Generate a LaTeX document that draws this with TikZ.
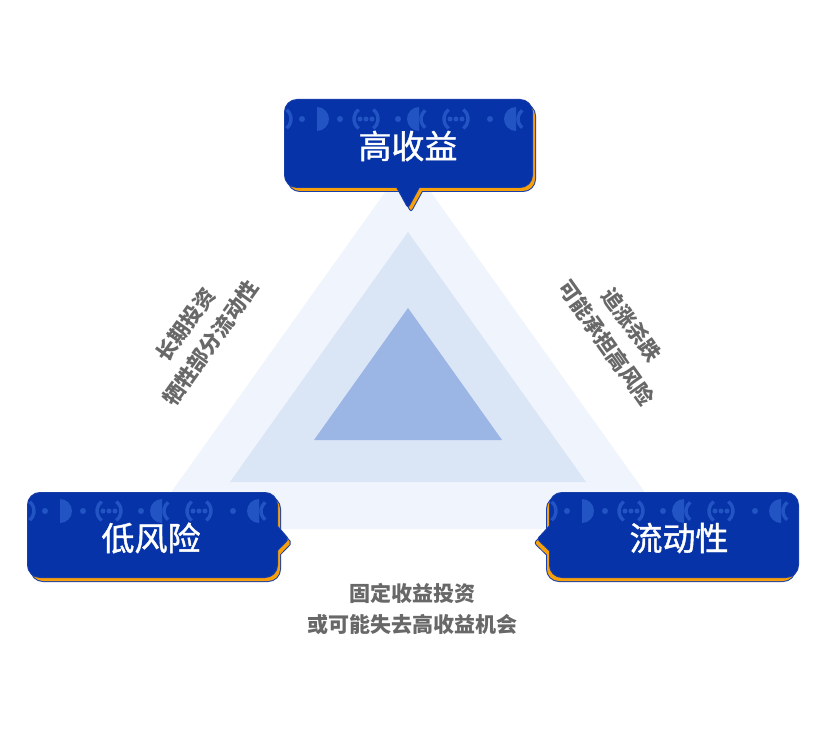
\documentclass[tikz,border=0pt]{standalone}
\usepackage{fontspec}
\newfontfamily\cjkfont{Noto Sans CJK SC}
\newfontfamily\cjkmid[FakeBold=1.2]{Noto Sans CJK SC}

\definecolor{boxblue}{RGB}{6,52,168}
\definecolor{boxedge}{RGB}{24,62,168}
\definecolor{decoblue}{RGB}{34,84,196}
\definecolor{shadoworange}{RGB}{246,160,12}
\definecolor{triouter}{RGB}{240,244,252}
\definecolor{trimiddle}{RGB}{218,229,246}
\definecolor{triinner}{RGB}{155,181,229}
\definecolor{notegray}{RGB}{104,104,104}

\tikzset{
  bubbleedge/.style={draw=boxedge, line width=2pt},
  bubblefill/.style={fill=boxblue},
  shadowfill/.style={fill=shadoworange},
  deco/.style={draw=decoblue, line width=3.4pt},
  bubbletext/.style={text=white, font=\cjkmid\fontsize{33}{40}\selectfont},
  notetext/.style={text=notegray, align=center, font=\cjkfont\bfseries\fontsize{21}{31}\selectfont},
}

% row of dots and rings along the top of a bubble (#1 = left edge, #2 = row)
\newcommand\wavestrip[2]{%
  \draw[deco] ([shift={(#1-6,#2)}]-50:12) arc[start angle=-50, end angle=50, radius=12];
  \foreach \d in {17,55,113,205} \fill[decoblue] (#1+\d,#2) circle (3);
  \foreach \r in {81,171} {
    \draw[deco] ([shift={(#1+\r,#2)}]128:12) arc[start angle=128, end angle=232, radius=12];
    \draw[deco] ([shift={(#1+\r,#2)}]-52:12) arc[start angle=-52, end angle=52, radius=12];
    \foreach \k in {-6,0,6} \fill[decoblue] (#1+\r+\k,#2) circle (2.5);
  }
  \fill[decoblue] (#1+32,#2-12) arc[start angle=-90, end angle=90, radius=12] -- cycle;
  \foreach \h in {134,231} {
    \fill[decoblue] (#1+\h,#2+12) arc[start angle=90, end angle=270, radius=12] -- cycle;
    \draw[deco] ([shift={(#1+\h+13,#2)}]128:11) arc[start angle=128, end angle=232, radius=11];
  }
}

\begin{document}
\begin{tikzpicture}[x=1pt, y=-1pt]
\useasboundingbox (0,0) rectangle (825,749);
\fill[white] (0,0) rectangle (825,749);

% Draw the three nested triangles
\fill[triouter] (408,160) -- (671,529) -- (145,529) -- cycle;
\fill[trimiddle] (408,232) -- (586,482) -- (230,482) -- cycle;
\fill[triinner] (408,308) -- (502,440) -- (314,440) -- cycle;

% Top bubble: shadow first, then the blue body
\draw[bubbleedge, rounded corners=12pt] (288,104) rectangle (535,191);
\draw[bubbleedge, rounded corners=2pt] (396.7,185) -- (411,211) -- (425.3,185) -- cycle;
\fill[shadowfill, rounded corners=12pt] (288,104) rectangle (535,191);
\fill[shadowfill, rounded corners=2pt] (396.7,185) -- (411,211) -- (425.3,185) -- cycle;
\draw[bubbleedge, rounded corners=12pt] (285,100) rectangle (532,187);
\draw[bubbleedge, rounded corners=2pt] (393.7,181) -- (408,207) -- (422.3,181) -- cycle;
\fill[bubblefill, rounded corners=12pt] (285,100) rectangle (532,187);
\fill[bubblefill, rounded corners=2pt] (393.7,181) -- (408,207) -- (422.3,181) -- cycle;
\wavestrip{285}{119}
\node[bubbletext] (high) at (408,146) {高收益};

% Left bubble
\draw[bubbleedge, rounded corners=12pt] (31,497) rectangle (280,581);
\draw[bubbleedge, rounded corners=2pt] (274,523.5) -- (291,543) -- (274,560.5) -- cycle;
\fill[shadowfill, rounded corners=12pt] (31,497) rectangle (280,581);
\fill[shadowfill, rounded corners=2pt] (274,523.5) -- (291,543) -- (274,560.5) -- cycle;
\draw[bubbleedge, rounded corners=12pt] (28,493) rectangle (277,577);
\draw[bubbleedge, rounded corners=2pt] (271,519.5) -- (288,539) -- (271,556.5) -- cycle;
\fill[bubblefill, rounded corners=12pt] (28,493) rectangle (277,577);
\fill[bubblefill, rounded corners=2pt] (271,519.5) -- (288,539) -- (271,556.5) -- cycle;
\wavestrip{28}{511}
\node[bubbletext] (low) at (151,538) {低风险};

% Right bubble
\draw[bubbleedge, rounded corners=12pt] (547,497) rectangle (795,581);
\draw[bubbleedge, rounded corners=2pt] (553,523.5) -- (535,543) -- (553,560.5) -- cycle;
\fill[shadowfill, rounded corners=12pt] (547,497) rectangle (795,581);
\fill[shadowfill, rounded corners=2pt] (553,523.5) -- (535,543) -- (553,560.5) -- cycle;
\draw[bubbleedge, rounded corners=12pt] (550,493) rectangle (798,577);
\draw[bubbleedge, rounded corners=2pt] (556,519.5) -- (538,539) -- (556,556.5) -- cycle;
\fill[bubblefill, rounded corners=12pt] (550,493) rectangle (798,577);
\fill[bubblefill, rounded corners=2pt] (556,519.5) -- (538,539) -- (556,556.5) -- cycle;
\wavestrip{550}{511}
\node[bubbletext] (liquid) at (679,538) {流动性};

% Notes along the sides and under the base
\node[notetext, rotate=54.5] (leftnote) at (198,334) {长期投资\\牺牲部分流动性};
\node[notetext, rotate=-54.5] (rightnote) at (619,334) {追涨杀跌\\可能承担高风险};
\node[notetext] (basenote) at (412,609) {固定收益投资\\或可能失去高收益机会};
\end{tikzpicture}
\end{document}
